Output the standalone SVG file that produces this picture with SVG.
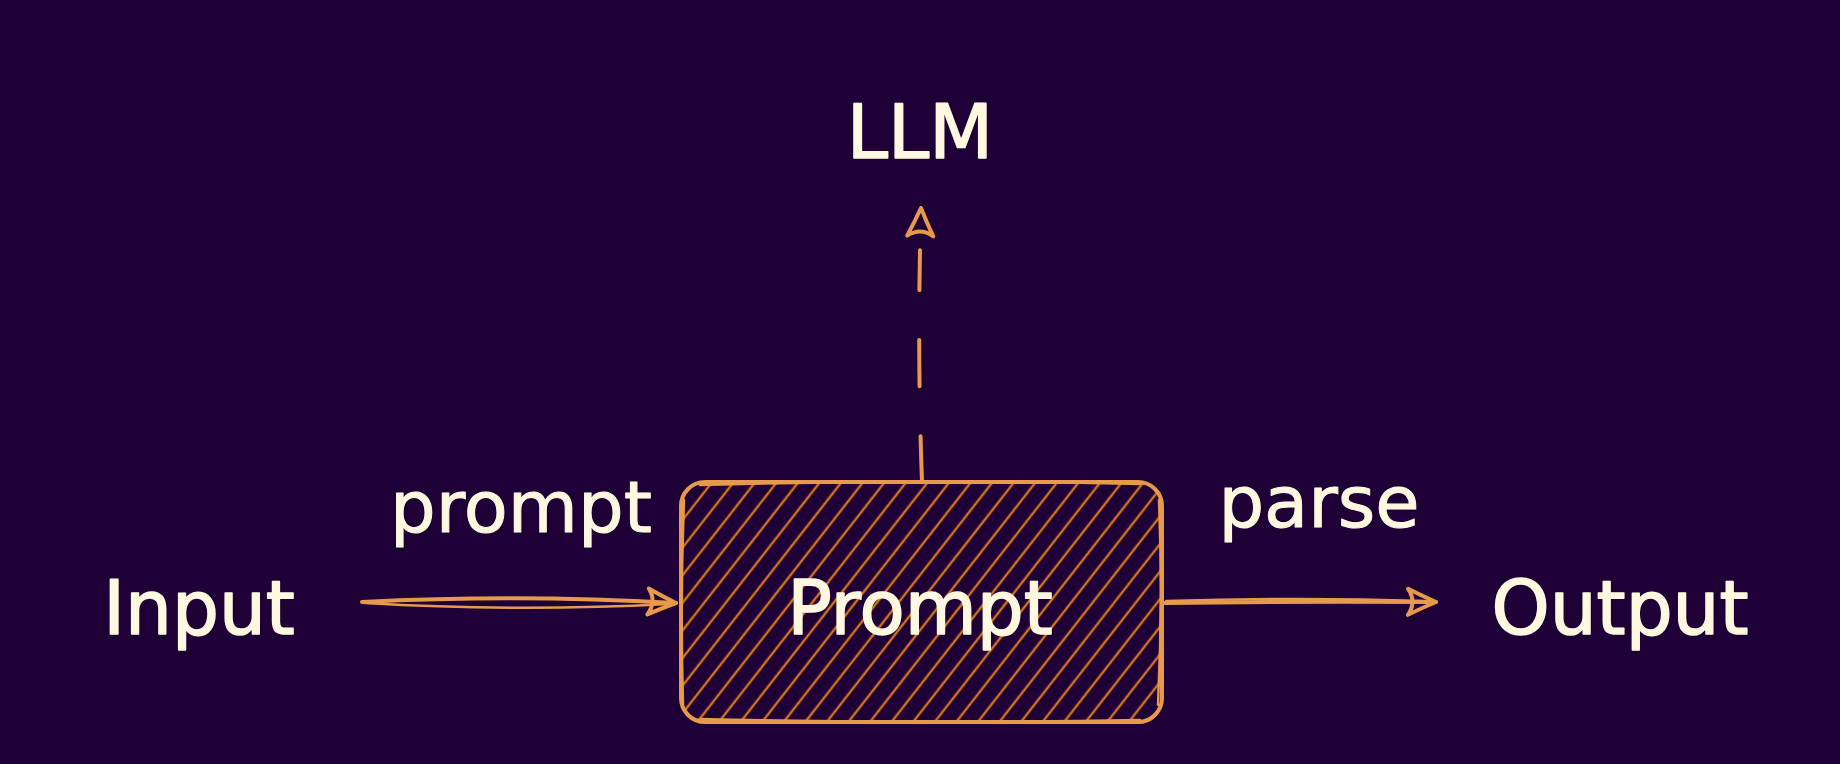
<svg xmlns="http://www.w3.org/2000/svg" width="1840" height="764" viewBox="0 0 1840 764">
  <style>
    .lbl { font-family: "DejaVu Sans", "Liberation Sans", sans-serif; font-size: 74px; fill: #fff8e1; stroke: #fff8e1; stroke-width: 1.6; stroke-linejoin: round; }
    .edge-lbl { font-family: "DejaVu Sans", "Liberation Sans", sans-serif; font-size: 72px; fill: #fff8e1; stroke: #fff8e1; stroke-width: 1; stroke-linejoin: round; }
    .stroke { fill: none; stroke: #e89a4c; stroke-width: 4; stroke-linecap: round; stroke-linejoin: round; }
    .thin { fill: none; stroke: #e89a4c; stroke-width: 2.5; stroke-linecap: round; }
  </style>
  <defs>
    <pattern id="hatch" patternUnits="userSpaceOnUse" width="17" height="17" patternTransform="rotate(38)">
      <line x1="8" y1="0" x2="8" y2="17" stroke="#d27415" stroke-width="2.4"/>
    </pattern>
    <marker id="arrow" viewBox="0 0 34 32" refX="32" refY="16" markerWidth="34" markerHeight="32" markerUnits="userSpaceOnUse" orient="auto">
      <path d="M4,3 Q18,10 32,16 Q18,22 4,29 Q13,16 4,3 Z" fill="none" stroke="#e89a4c" stroke-width="4" stroke-linejoin="round"/>
    </marker>
  </defs>
  <rect width="1840" height="764" fill="#1e0036"/>

  <g id="connectors">
    <!-- Input -> Prompt -->
    <path class="stroke" d="M362,602 Q520,594 676,603" marker-end="url(#arrow)"/>
    <path class="thin" d="M365,603 Q520,612 668,604"/>
    <!-- Prompt -> Output -->
    <path class="stroke" d="M1164,603 Q1300,601 1436,602" marker-end="url(#arrow)"/>
    <path class="thin" d="M1166,601 Q1300,597 1425,601"/>
    <!-- Prompt -> LLM (dashed) -->
    <path class="stroke" d="M922,482 Q917,350 921,208" stroke-dasharray="46 50 46 50 40 200" marker-end="url(#arrow)"/>
  </g>

  <g id="node-llm">
    <text class="lbl" x="920" y="158" text-anchor="middle">LLM</text>
  </g>

  <g id="node-input">
    <text class="lbl" x="199" y="634" text-anchor="middle">Input</text>
  </g>

  <g id="node-prompt">
    <rect x="681" y="482" width="481" height="240" rx="24" fill="url(#hatch)"/>
    <rect class="stroke" x="681" y="482" width="481" height="240" rx="24"/>
    <path class="thin" d="M700,485 Q920,479 1140,484 M684,500 Q680,600 683,705 M1159,500 Q1163,600 1158,705 M700,719 Q920,724 1140,720"/>
    <text class="lbl" x="920" y="634" text-anchor="middle">Prompt</text>
  </g>

  <g id="node-output">
    <text class="lbl" x="1620" y="634" text-anchor="middle">Output</text>
  </g>

  <g id="labels">
    <text class="edge-lbl" x="521" y="532" text-anchor="middle">prompt</text>
    <text class="edge-lbl" x="1319" y="527" text-anchor="middle">parse</text>
  </g>
</svg>
